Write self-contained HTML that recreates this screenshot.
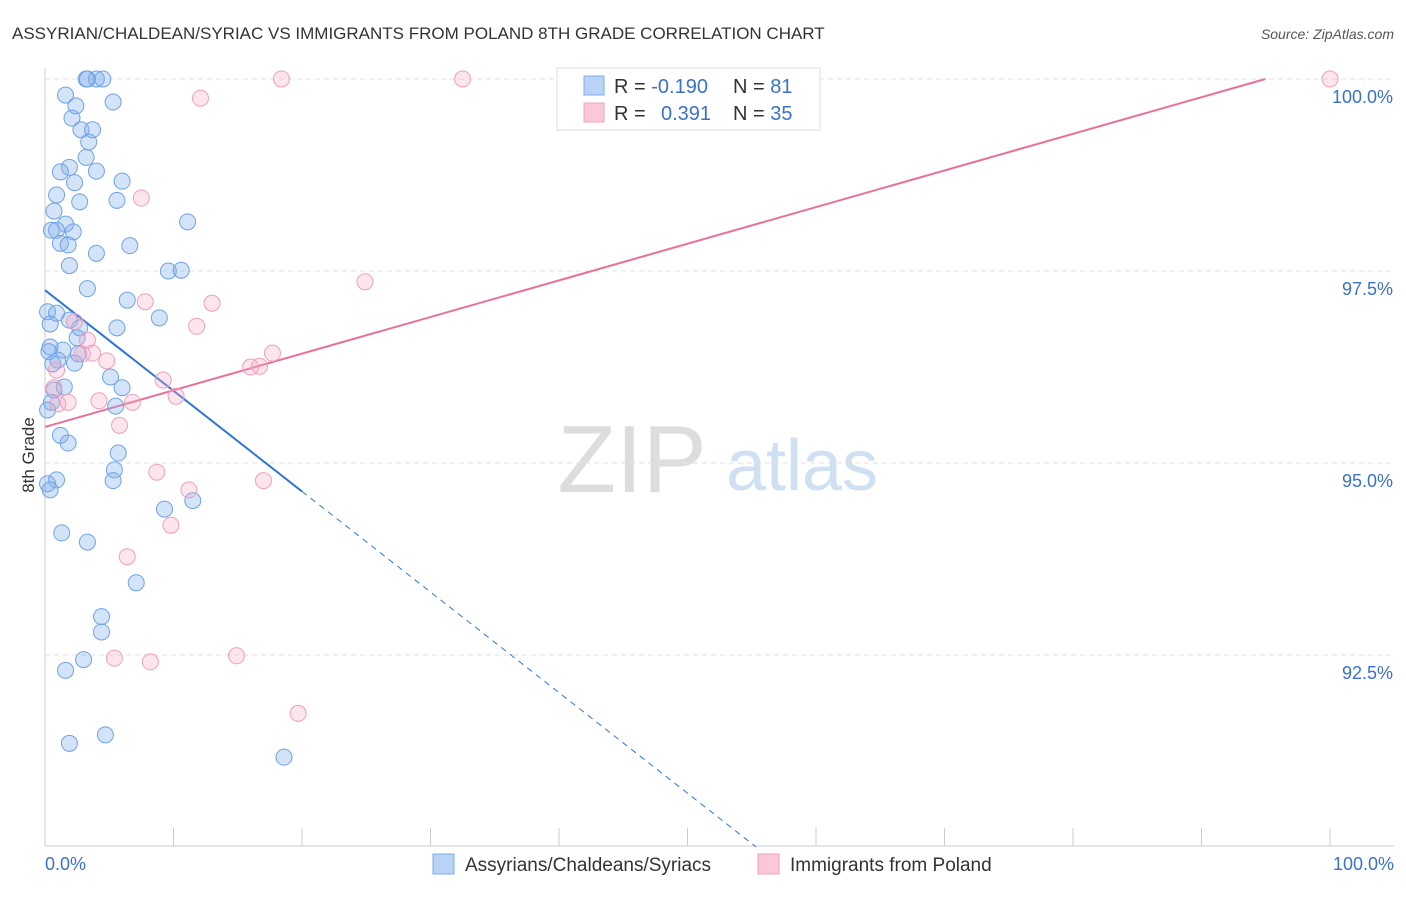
<!DOCTYPE html>
<html><head><meta charset="utf-8"><style>
body{margin:0;background:#fff;font-family:"Liberation Sans",sans-serif}
svg text{font-family:"Liberation Sans",sans-serif}
</style></head><body>
<svg id="chart" width="1406" height="892" xmlns="http://www.w3.org/2000/svg">
<text x="12" y="39" font-size="17" fill="#333">ASSYRIAN/CHALDEAN/SYRIAC VS IMMIGRANTS FROM POLAND 8TH GRADE CORRELATION CHART</text>
<text x="1394" y="39" font-size="14" fill="#555" text-anchor="end" font-style="italic">Source: ZipAtlas.com</text>
<text x="34" y="455" font-size="17" fill="#333" text-anchor="middle" transform="rotate(-90 34 455)">8th Grade</text>
<g>
<text x="632" y="492" font-size="96" fill="#ddd" text-anchor="middle" font-family="Liberation Serif">ZIP</text>
<text x="802" y="490" font-size="72" fill="#cfe0f3" text-anchor="middle">atlas</text>
</g>
<g id="grid"></g><g id="axes"></g><g id="lines"></g><g id="pts"></g>
<g>
<rect x="557" y="68" width="263" height="62" fill="#fff" stroke="#ddd"/>
<rect x="584" y="76" width="20" height="19" fill="#b8d3f5" stroke="#7aaee8"/>
<rect x="584" y="103" width="20" height="19" fill="#fbc8d8" stroke="#f0a0bc"/>
<text x="614" y="93" font-size="20" fill="#333">R = <tspan fill="#3a72c8">-0.190</tspan></text>
<text x="733" y="93" font-size="20" fill="#333">N = <tspan fill="#3a72c8"> 81</tspan></text>
<text x="614" y="120" font-size="20" fill="#333">R = <tspan fill="#3a72c8" x="661">0.391</tspan></text>
<text x="733" y="120" font-size="20" fill="#333">N = <tspan fill="#3a72c8">35</tspan></text>
</g>
<g>
<rect x="433" y="854" width="21" height="20" fill="#b8d3f5" stroke="#7aaee8"/>
<text x="465" y="871" font-size="19" fill="#333">Assyrians/Chaldeans/Syriacs</text>
<rect x="758" y="854" width="21" height="20" fill="#fbc8d8" stroke="#f0a0bc"/>
<text x="790" y="871" font-size="19" fill="#333">Immigrants from Poland</text>
</g>
</svg>
<script>
const blueX=[3.2,4.0,4.5,3.3,1.6,2.4,5.3,2.1,2.8,3.7,3.4,3.2,1.9,1.2,4.0,2.3,6.0,0.9,5.6,2.7,0.7,11.1,1.6,0.5,0.9,2.2,1.2,1.8,6.6,4.0,1.9,9.6,10.6,3.3,6.4,0.2,0.9,1.9,0.4,2.7,5.6,8.9,2.5,0.4,1.4,0.3,2.6,1.0,2.3,0.6,5.1,1.5,6.0,0.7,0.5,5.5,0.2,1.2,1.8,5.7,5.4,0.9,5.3,0.2,0.4,9.3,11.5,1.3,3.3,7.1,4.4,4.4,3.0,1.6,4.7,1.9,18.6];
const blueY=[100,100,100,100,99.79,99.65,99.70,99.49,99.34,99.34,99.18,98.98,98.85,98.79,98.80,98.65,98.67,98.49,98.42,98.40,98.28,98.14,98.11,98.03,98.03,98.01,97.86,97.84,97.83,97.73,97.57,97.50,97.51,97.27,97.12,96.97,96.95,96.86,96.81,96.76,96.76,96.89,96.63,96.51,96.47,96.45,96.42,96.34,96.30,96.29,96.12,95.99,95.98,95.95,95.79,95.74,95.69,95.36,95.26,95.13,94.91,94.78,94.77,94.73,94.65,94.40,94.51,94.09,93.97,93.44,93.00,92.80,92.44,92.30,91.46,91.35,91.17];
const pinkX=[18.4,32.5,100,12.1,7.5,24.9,7.8,13.0,11.8,2.3,3.3,3.7,2.9,4.8,17.7,16.0,16.7,0.9,9.2,10.2,0.7,1.8,4.2,6.8,1.0,5.8,8.7,11.2,17.0,9.8,6.4,5.4,8.2,14.9,19.7];
const pinkY=[100,100,100,99.75,98.45,97.36,97.10,97.08,96.78,96.84,96.60,96.43,96.42,96.33,96.43,96.25,96.26,96.21,96.08,95.87,95.98,95.79,95.81,95.79,95.77,95.49,94.88,94.65,94.77,94.19,93.78,92.46,92.41,92.49,91.74];
const yTicks=[100,97.5,95,92.5];
const yTickLabels=["100.0%","97.5%","95.0%","92.5%"];
const xTicks=[0,10,20,30,40,50,60,70,80,90,100];
const blueTrend=[97.25,-0.131];
const pinkTrend=[95.47,0.0477];
const NS="http://www.w3.org/2000/svg";
const X=v=>45+v*12.85, Y=v=>79+(100-v)*76.8;
function mk(tag,attrs,parent){const e=document.createElementNS(NS,tag);for(const k in attrs)e.setAttribute(k,attrs[k]);document.getElementById(parent).appendChild(e);return e;}
yTicks.forEach((t,i)=>{
 const g=mk('line',{x1:45,x2:1394,y1:Y(t),y2:Y(t),stroke:'#e2e2e2','stroke-dasharray':'5,4'},'grid');
 
 
 const l=mk('text',{x:1393,y:Y(t)+24,'font-size':18,fill:'#3a72c8','text-anchor':'end'},'axes');
 l.textContent=yTickLabels[i];
 
 
});
const ax=mk('line',{x1:45,x2:45,y1:68,y2:846,stroke:'#ccc'},'axes');


const bx=mk('line',{x1:45,x2:1394,y1:846,y2:846,stroke:'#ccc'},'axes');


xTicks.forEach(t=>{
 const k=mk('line',{x1:X(t),x2:X(t),y1:828,y2:846,stroke:'#ccc'},'axes');
 
 
});
const xl0=mk('text',{x:45,y:870,'font-size':18,fill:'#3a72c8'},'axes');xl0.textContent='0.0%';


const xl1=mk('text',{x:1394,y:870,'font-size':18,fill:'#3a72c8','text-anchor':'end'},'axes');xl1.textContent='100.0%';


const by=x=>blueTrend[0]+blueTrend[1]*x, py=x=>pinkTrend[0]+pinkTrend[1]*x;
const xEndB=(90-blueTrend[0])/blueTrend[1];
const b1=mk('line',{x1:X(0),y1:Y(by(0)),x2:X(20),y2:Y(by(20)),stroke:'#2f74d8','stroke-width':2},'lines');


const b2=mk('line',{x1:X(20),y1:Y(by(20)),x2:X(xEndB),y2:Y(90),stroke:'#2f74d8','stroke-width':1,'stroke-dasharray':'6,5'},'lines');


const xEndP=(100-pinkTrend[0])/pinkTrend[1];
const p1=mk('line',{x1:X(0),y1:Y(py(0)),x2:X(xEndP),y2:Y(100),stroke:'#e8709a','stroke-width':2},'lines');


blueX.forEach((x,i)=>{
 const c=mk('circle',{cx:X(x),cy:Y(blueY[i]),r:8,fill:'rgba(130,175,235,0.35)',stroke:'#6fa3e3','stroke-width':1},'pts');
 
 
});
pinkX.forEach((x,i)=>{
 const c=mk('circle',{cx:X(x),cy:Y(pinkY[i]),r:8,fill:'rgba(245,170,195,0.3)',stroke:'#eea0bb','stroke-width':1},'pts');
 
 
});
</script>
</body></html>
